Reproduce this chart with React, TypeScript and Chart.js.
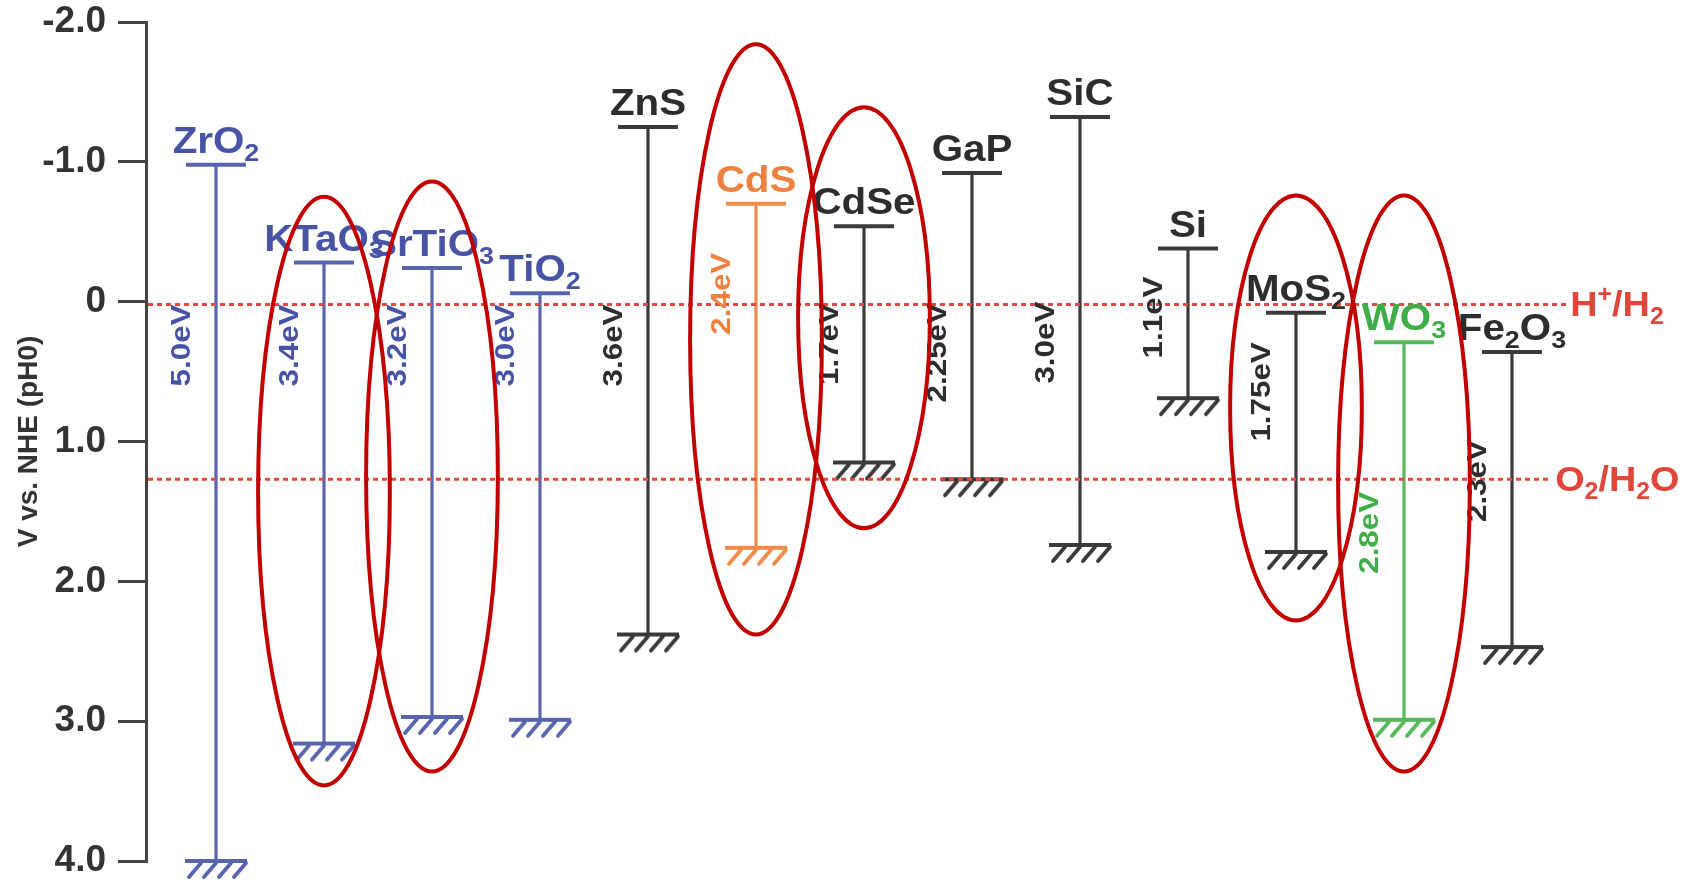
import React, { useEffect, useRef } from 'react';
import { Chart, registerables } from 'chart.js';

Chart.register(...registerables);

// ---------- data ----------
const materials = ['ZrO_2', 'KTaO_3', 'SrTiO_3', 'TiO_2', 'ZnS', 'CdS', 'CdSe', 'GaP', 'SiC', 'Si', 'MoS_2', 'WO_3', 'Fe_2O_3'];
const conductionBand = [-0.98, -0.28, -0.24, -0.06, -1.25, -0.7, -0.54, -0.92, -1.32, -0.38, 0.08, 0.29, 0.36];
const valenceBand = [4.0, 3.16, 2.97, 2.99, 2.38, 1.76, 1.15, 1.27, 1.74, 0.69, 1.79, 2.99, 2.47];
const gapLabels = ['5.0eV', '3.4eV', '3.2eV', '3.0eV', '3.6eV', '2.4eV', '1.7eV', '2.25eV', '3.0eV', '1.1eV', '1.75eV', '2.8eV', '2.3eV'];
// potential (V) where each rotated band-gap label ends
const gapLabelEnd = [0.02, 0.02, 0.02, 0.02, 0.02, -0.35, 0.01, 0.01, 0.0, -0.18, 0.29, 1.36, 0.99];
const materialGroup = ['oxide', 'oxide', 'oxide', 'oxide', 'dark', 'cds', 'dark', 'dark', 'dark', 'dark', 'dark', 'wo3', 'dark'];

const highlighted = ['KTaO_3', 'SrTiO_3', 'CdS', 'CdSe', 'MoS_2', 'WO_3'];
const highlightTop = [-0.75, -0.86, -1.84, -1.39, -0.76, -0.76];
const highlightBottom = [3.46, 3.36, 2.38, 1.62, 2.28, 3.36];

const yTickValues = [-2, -1, 0, 1, 2, 3, 4];
const yTickLabels = ['-2.0', '-1.0', '0', '1.0', '2.0', '3.0', '4.0'];

const redoxPotentials = [0.02, 1.27];
const redoxLabels = ['H^+/H_2', 'O_2/H_2O'];
const redoxLabelAt = [12.54, 12.4];

// ---------- styles ----------
const FONT = "'Liberation Sans', Arial, Helvetica, sans-serif";
const palette: Record<string, { line: string; text: string }> = {
  oxide: { line: '#5864ae', text: '#4754a6' },
  cds: { line: '#f08a48', text: '#ee8140' },
  wo3: { line: '#55b95c', text: '#3fae48' },
  dark: { line: '#3a3a3a', text: '#2d2d2d' },
};
const REDOX_LINE = '#e5483f';
const REDOX_TEXT = '#e0463a';
const ELLIPSE = '#c20000';

type Run = { text: string; kind: 'n' | 'sub' | 'sup' };

function parseRich(s: string): Run[] {
  const runs: Run[] = [];
  let cur = '';
  for (let i = 0; i < s.length; i++) {
    const c = s[i];
    if (c === '_' || c === '^') {
      if (cur) runs.push({ text: cur, kind: 'n' });
      cur = '';
      runs.push({ text: s[i + 1], kind: c === '_' ? 'sub' : 'sup' });
      i++;
    } else cur += c;
  }
  if (cur) runs.push({ text: cur, kind: 'n' });
  return runs;
}

function drawRich(
  ctx: CanvasRenderingContext2D,
  s: string,
  x: number,
  y: number,
  size: number,
  color: string,
  align: 'left' | 'center' | 'right',
  baseline: CanvasTextBaseline,
  stretch: number
) {
  const runs = parseRich(s);
  const fontFor = (k: string) => `bold ${k === 'n' ? size : Math.round(size * 0.66)}px ${FONT}`;
  let w = 0;
  const widths = runs.map((r) => {
    ctx.font = fontFor(r.kind);
    const m = ctx.measureText(r.text).width;
    w += m;
    return m;
  });
  ctx.save();
  ctx.fillStyle = color;
  ctx.textBaseline = baseline;
  ctx.textAlign = 'left';
  const startX = align === 'left' ? x : align === 'center' ? x - (w * stretch) / 2 : x - w * stretch;
  ctx.translate(startX, y);
  ctx.scale(stretch, 1);
  let cx = 0;
  runs.forEach((r, i) => {
    ctx.font = fontFor(r.kind);
    const dy = r.kind === 'sub' ? size * 0.22 : r.kind === 'sup' ? -size * 0.4 : 0;
    ctx.fillText(r.text, cx, dy);
    cx += widths[i];
  });
  ctx.restore();
}

function makeHatch(color: string): HTMLCanvasElement {
  const c = document.createElement('canvas');
  c.width = 68;
  c.height = 44;
  const g = c.getContext('2d')!;
  const cx = 34;
  const cy = 22;
  g.strokeStyle = color;
  g.lineWidth = 4;
  g.beginPath();
  g.moveTo(cx - 31, cy);
  g.lineTo(cx + 31, cy);
  g.stroke();
  g.lineWidth = 3.8;
  g.lineCap = 'round';
  for (let k = 0; k < 4; k++) {
    const bx = cx - 27 + 15 * k;
    g.beginPath();
    g.moveTo(bx, cy + 16);
    g.lineTo(bx + 12, cy + 2);
    g.stroke();
  }
  return c;
}

const annotationPlugin = {
  id: 'bandAnnotations',
  afterDatasetsDraw(chart: any) {
    const { ctx, chartArea, scales } = chart;
    const x = scales.x;
    const y = scales.y;

    // redox reference lines
    redoxPotentials.forEach((v, k) => {
      const py = y.getPixelForValue(v);
      const lx = x.getPixelForValue(redoxLabelAt[k]);
      ctx.save();
      ctx.strokeStyle = REDOX_LINE;
      ctx.lineWidth = 3;
      ctx.setLineDash([5, 4]);
      ctx.beginPath();
      ctx.moveTo(chartArea.left + 2, py);
      ctx.lineTo(lx - 4, py);
      ctx.stroke();
      ctx.restore();
      drawRich(ctx, redoxLabels[k], lx, py + 12, 35, REDOX_TEXT, 'left', 'alphabetic', 1.08);
    });

    // material names and band-gap labels
    materials.forEach((m, i) => {
      const px = x.getPixelForValue(i);
      const py = y.getPixelForValue(conductionBand[i]);
      const col = palette[materialGroup[i]].text;
      drawRich(ctx, m, px, py - 12, 36, col, 'center', 'alphabetic', 1.12);
      ctx.save();
      ctx.translate(px - 34, y.getPixelForValue(gapLabelEnd[i]));
      ctx.rotate(-Math.PI / 2);
      drawRich(ctx, gapLabels[i], 0, 0, 28, col, 'right', 'middle', 1.12);
      ctx.restore();
    });

    // highlight ellipses
    const step = x.getPixelForValue(1) - x.getPixelForValue(0);
    highlighted.forEach((m, k) => {
      const i = materials.indexOf(m);
      const px = x.getPixelForValue(i);
      const top = y.getPixelForValue(highlightTop[k]);
      const bot = y.getPixelForValue(highlightBottom[k]);
      ctx.save();
      ctx.strokeStyle = ELLIPSE;
      ctx.lineWidth = 4;
      ctx.beginPath();
      ctx.ellipse(px, (top + bot) / 2, step * 0.61, (bot - top) / 2, 0, 0, Math.PI * 2);
      ctx.stroke();
      ctx.restore();
    });
  },
};

export default function App() {
  const ref = useRef<HTMLCanvasElement>(null);

  useEffect(() => {
    document.body.style.margin = '0';
    const canvas = ref.current!;
    const lineColors = materialGroup.map((g) => palette[g].line);
    const hatches = lineColors.map((c) => makeHatch(c));

    const chart = new Chart(canvas, {
      type: 'scatter',
      data: {
        datasets: [
          {
            label: 'Conduction band',
            data: materials.map((_, i) => ({ x: i, y: conductionBand[i] })),
            pointStyle: 'line',
            pointRadius: 30,
            pointBorderWidth: 4,
            pointBorderColor: lineColors,
            pointBackgroundColor: lineColors,
            showLine: false,
            clip: false,
          } as any,
          {
            label: 'Valence band',
            data: materials.map((_, i) => ({ x: i, y: valenceBand[i] })),
            pointStyle: hatches,
            pointRadius: 30,
            showLine: false,
            clip: false,
          } as any,
          ...materials.map(
            (m, i) =>
              ({
                label: m,
                data: [
                  { x: i, y: conductionBand[i] },
                  { x: i, y: valenceBand[i] },
                ],
                showLine: true,
                borderColor: lineColors[i],
                borderWidth: 3.2,
                pointRadius: 0,
                clip: false,
              } as any)
          ),
        ],
      },
      options: {
        responsive: false,
        animation: false,
        events: [],
        layout: { autoPadding: false, padding: { top: 22, bottom: 23, left: 0, right: 0 } },
        plugins: { legend: { display: false }, tooltip: { enabled: false } },
        scales: {
          x: {
            type: 'linear',
            min: -0.648,
            max: 13.778,
            display: false,
            ticks: { display: false },
            afterFit: (s: any) => {
              s.paddingLeft = 0;
              s.paddingRight = 0;
            },
          },
          y: {
            type: 'linear',
            reverse: true,
            min: -2,
            max: 4,
            afterFit: (s: any) => {
              s.width = 146;
              s.paddingTop = 0;
              s.paddingBottom = 0;
            },
            ticks: {
              stepSize: 1,
              padding: 12,
              color: '#333333',
              font: { family: FONT, size: 37, weight: 'bold' },
              callback: (v: any) => {
                const k = yTickValues.indexOf(Number(v));
                return k >= 0 ? yTickLabels[k] : '';
              },
            },
            grid: { drawOnChartArea: false, drawTicks: true, tickLength: 28, color: '#444444', lineWidth: 3 },
            border: { display: true, color: '#444444', width: 3 },
            title: {
              display: true,
              text: 'V vs. NHE (pH0)',
              color: '#333333',
              font: { family: FONT, size: 28, weight: 'bold' },
              padding: { top: 12, bottom: 0 },
            },
          },
        },
      } as any,
      plugins: [annotationPlugin],
    });
    return () => chart.destroy();
  }, []);

  return (
    <div style={{ width: 1704, height: 884, background: '#ffffff' }}>
      <canvas ref={ref} width={1704} height={884} style={{ width: 1704, height: 884, display: 'block' }} />
    </div>
  );
}
